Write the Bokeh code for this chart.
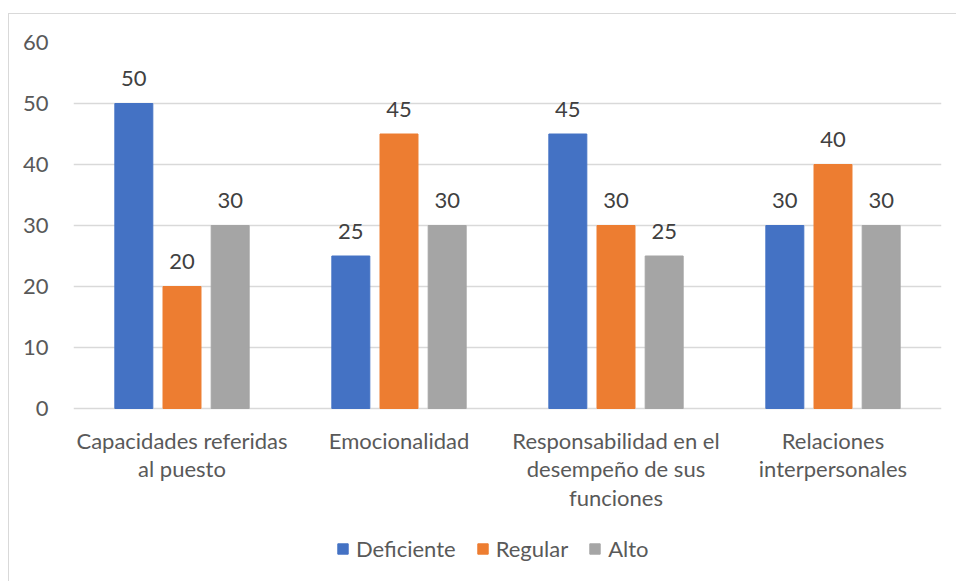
from bokeh.plotting import figure
from bokeh.models import ColumnDataSource, FactorRange, Range1d, LabelSet, Legend, LegendItem
from bokeh.core.properties import value
from bokeh.transform import dodge
from bokeh.embed import file_html
from bokeh.resources import INLINE

categories = ["Capacidades referidas al puesto", "Emocionalidad",
              "Responsabilidad en el desempeño de sus funciones", "Relaciones interpersonales"]
label_line1 = ["Capacidades referidas", "Emocionalidad", "Responsabilidad en el", "Relaciones"]
label_line2 = ["al puesto", "", "desempeño de sus", "interpersonales"]
label_line3 = ["", "", "funciones", ""]
deficiente = [50, 25, 45, 30]
regular = [20, 45, 30, 40]
alto = [30, 30, 25, 30]
series_names = ["Deficiente", "Regular", "Alto"]
colors = ["#4472C4", "#ED7D31", "#A5A5A5"]
y_ticks = [0, 10, 20, 30, 40, 50, 60]

FONT = "Lato"
FS = "22px"
TXT = "#595959"

# layout (pixels)
PX_PER_UNIT = 6.1
FRAME_H = 533
Y_MAX = 60
Y_MIN = Y_MAX - FRAME_H / PX_PER_UNIT

src = ColumnDataSource(dict(cat=categories, Deficiente=deficiente, Regular=regular, Alto=alto,
                            Deficiente_l=[str(v) for v in deficiente],
                            Regular_l=[str(v) for v in regular],
                            Alto_l=[str(v) for v in alto],
                            base=[0] * len(categories),
                            l1=label_line1, l2=label_line2, l3=label_line3))

p = figure(width=948, height=568, x_range=FactorRange(*categories, range_padding=0),
           y_range=Range1d(Y_MIN, Y_MAX), output_backend="svg", toolbar_location=None,
           min_border_left=64, min_border_right=16, min_border_top=28, min_border_bottom=7,
           margin=(13, 0, 0, 8),
           styles={"border-top": "1px solid #d9d9d9", "border-left": "1px solid #d9d9d9"})
p.outline_line_color = None
p.background_fill_color = "white"
p.border_fill_color = "white"

offsets = [-0.222, 0.0, 0.222]
legend_items = []
for name, col, off in zip(series_names, colors, offsets):
    r = p.vbar(x=dodge("cat", off, range=p.x_range), top=name, width=0.175, source=src,
               fill_color=col, line_color=col)
    legend_items.append(LegendItem(label=name, renderers=[r]))
    p.add_layout(LabelSet(x=dodge("cat", off, range=p.x_range), y=name, text=name + "_l", source=src,
                          text_align="center", text_baseline="middle", y_offset=25,
                          text_font=value(FONT), text_font_size=value(FS), text_color="#404040"))

# category labels (three lines) under the zero line
for col, yoff in (("l1", -32), ("l2", -60), ("l3", -89)):
    p.add_layout(LabelSet(x="cat", y="base", text=col, source=src,
                          text_align="center", text_baseline="middle", y_offset=yoff,
                          text_font=value(FONT), text_font_size=value(FS), text_color=TXT))

p.xaxis.visible = False

p.yaxis.ticker = y_ticks
p.yaxis.axis_line_color = None
p.yaxis.major_tick_line_color = None
p.yaxis.minor_tick_line_color = None
p.yaxis.major_label_standoff = 19
p.yaxis.major_label_text_font = FONT
p.yaxis.major_label_text_font_size = FS
p.yaxis.major_label_text_color = TXT

p.xgrid.grid_line_color = None
p.ygrid.grid_line_color = "#d9d9d9"
p.ygrid.grid_line_width = 1.3

legend = Legend(items=legend_items, orientation="horizontal", location=(263, 13),
                label_text_font=FONT, label_text_font_size=FS, label_text_color=TXT,
                glyph_width=13, glyph_height=13, label_standoff=7, spacing=20,
                padding=0, margin=0, border_line_color=None, background_fill_alpha=0)
p.add_layout(legend, "center")

open("out.html", "w").write(file_html(p, INLINE))
